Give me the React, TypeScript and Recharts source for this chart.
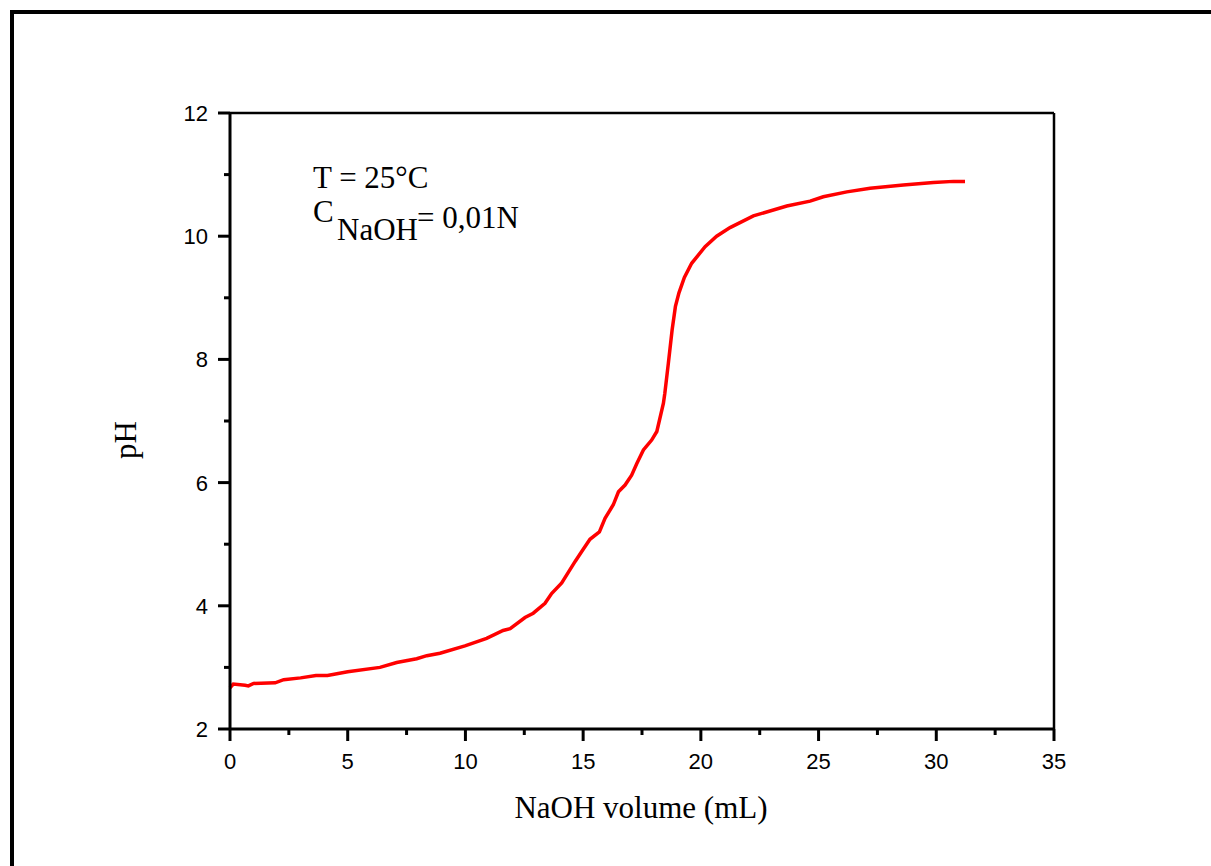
import { LineChart, Line, XAxis, YAxis, ReferenceLine } from "recharts";

// NaOH volume (mL)
const volume = [
  0, 0.14, 0.64, 0.78, 1.0, 1.92, 2.28, 3.0, 3.65, 4.14, 5.0, 6.37, 7.08, 7.93,
  8.36, 8.92, 9.98, 10.9, 11.6, 11.9, 12.53, 12.88, 13.38, 13.66, 14.09, 14.66,
  14.94, 15.29, 15.69, 15.93, 16.28, 16.5, 16.78, 17.06, 17.28, 17.56, 17.91,
  18.13, 18.41, 18.47, 18.62, 18.78, 18.92, 19.07, 19.3, 19.61, 20.18, 20.67,
  21.24, 22.23, 23.65, 24.64, 25.2, 26.2, 27.19, 28.6, 29.88, 30.73, 31.22,
];

const ph = [
  2.67, 2.73, 2.71, 2.7, 2.74, 2.75, 2.8, 2.83, 2.87, 2.87, 2.93, 3.0, 3.08, 3.14,
  3.19, 3.23, 3.35, 3.47, 3.6, 3.63, 3.81, 3.88, 4.04, 4.2, 4.37, 4.72,
  4.88, 5.08, 5.2, 5.42, 5.64, 5.85, 5.96, 6.12, 6.31, 6.53, 6.69,
  6.83, 7.29, 7.45, 7.94, 8.48, 8.86, 9.08, 9.33, 9.56, 9.83, 10.0,
  10.14, 10.33, 10.49, 10.57, 10.64, 10.72, 10.78, 10.83, 10.87, 10.89, 10.89,
];

const xTicks = [0, 2.5, 5, 7.5, 10, 12.5, 15, 17.5, 20, 22.5, 25, 27.5, 30, 32.5, 35];
const yTicks = [2, 3, 4, 5, 6, 7, 8, 9, 10, 11, 12];

const data = volume.map((v, i) => ({ v, ph: ph[i] }));

const SANS = "'Liberation Sans', Arial, sans-serif";
const SERIF = "'Liberation Serif', 'Times New Roman', serif";

function XTick(props: any) {
  const { x, y, payload } = props;
  const major = payload.value % 5 === 0;
  return (
    <g>
      <line x1={x} y1={y} x2={x} y2={y + (major ? 12 : 6)} stroke="#000" strokeWidth={3} />
      {major && (
        <text x={x} y={y + 40} textAnchor="middle" fontFamily={SANS} fontSize={22} fill="#000">
          {payload.value}
        </text>
      )}
    </g>
  );
}

function YTick(props: any) {
  const { x, y, payload } = props;
  const major = payload.value % 2 === 0;
  return (
    <g>
      <line x1={x} y1={y} x2={x - (major ? 12 : 6)} y2={y} stroke="#000" strokeWidth={3} />
      {major && (
        <text x={x - 22} y={y + 8} textAnchor="end" fontFamily={SANS} fontSize={22} fill="#000">
          {payload.value}
        </text>
      )}
    </g>
  );
}

export default function App() {
  return (
    <div style={{ position: "fixed", left: 0, top: 0, width: 1211, height: 866, background: "#fff" }}>
      <div
        style={{
          position: "absolute",
          left: 10,
          top: 10,
          width: 1201,
          height: 856,
          boxSizing: "border-box",
          borderTop: "4px solid #000",
          borderLeft: "4px solid #000",
        }}
      />
      <div style={{ position: "absolute", left: 0, top: 0 }}>
        <LineChart
          width={1211}
          height={866}
          data={data}
          margin={{ top: 113, right: 157, bottom: 97, left: 170 }}
        >
          <XAxis
            dataKey="v"
            type="number"
            domain={[0, 35]}
            ticks={xTicks}
            interval={0}
            height={40}
            tickSize={0}
            tickMargin={0}
            tickLine={false}
            tick={<XTick />}
            axisLine={{ stroke: "#000", strokeWidth: 3 }}
          />
          <YAxis
            type="number"
            domain={[2, 12]}
            ticks={yTicks}
            interval={0}
            width={60}
            tickSize={0}
            tickMargin={0}
            tickLine={false}
            tick={<YTick />}
            axisLine={{ stroke: "#000", strokeWidth: 3 }}
          />
          <ReferenceLine y={12} stroke="#000" strokeWidth={2.5} />
          <ReferenceLine x={35} stroke="#000" strokeWidth={2.5} />
          <Line
            type="linear"
            dataKey="ph"
            stroke="#ff0000"
            strokeWidth={3.5}
            dot={false}
            isAnimationActive={false}
          />
        </LineChart>
      </div>
      <svg
        width={1211}
        height={866}
        style={{ position: "absolute", left: 0, top: 0, pointerEvents: "none" }}
      >
        <g fontFamily={SERIF} fontSize={31} fill="#000">
          <text x={313} y={188}>T = 25°C</text>
          <text x={313} y={222}>C</text>
          <text x={337} y={240}>NaOH</text>
          <text x={417} y={228}>= 0,01N</text>
          <text x={641} y={818} textAnchor="middle">NaOH volume (mL)</text>
          <text x={136} y={440} textAnchor="middle" transform="rotate(-90 136 440)">pH</text>
        </g>
      </svg>
    </div>
  );
}
